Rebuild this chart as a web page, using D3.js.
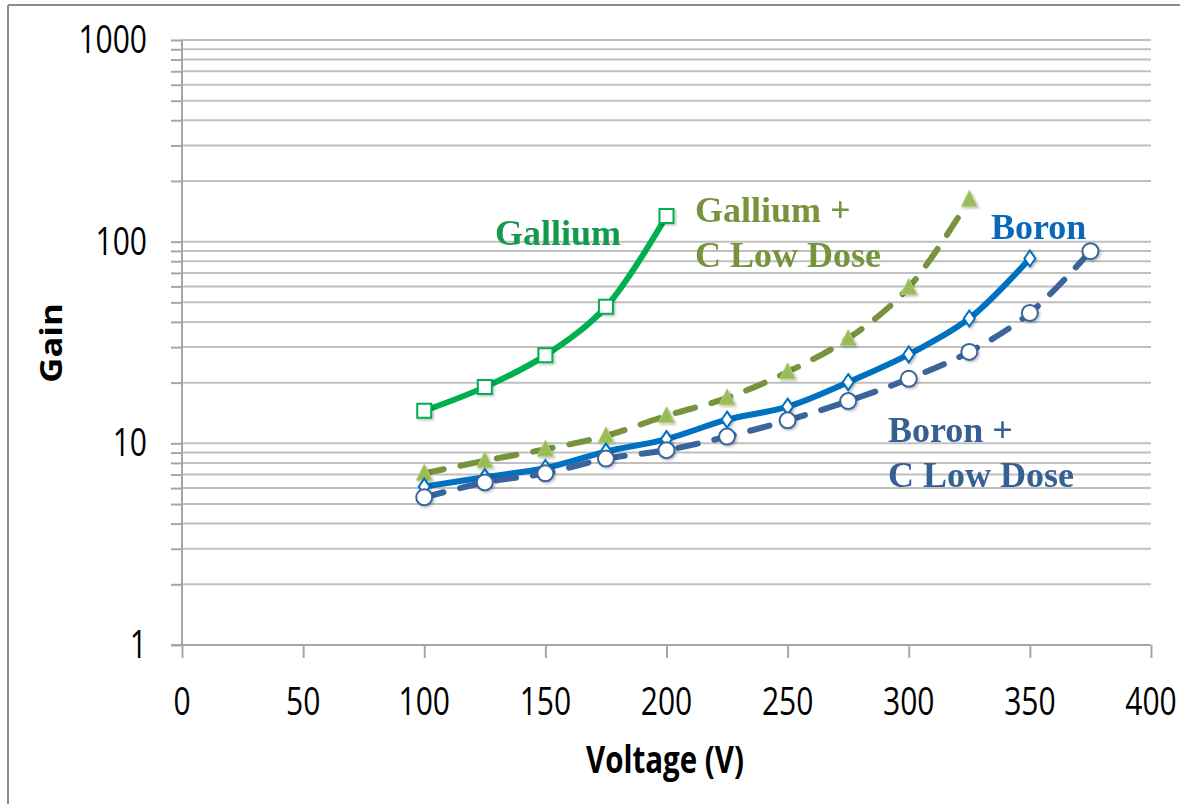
<!DOCTYPE html>
<html>
<head>
<meta charset="utf-8">
<script src="https://cdn.jsdelivr.net/npm/d3@7"></script>
<style>
  html, body { margin: 0; padding: 0; background: #fff; }
  svg { display: block; }
</style>
</head>
<body>
<svg id="chart" width="1180" height="804"></svg>
<script>
// Gain vs bias voltage for four doping variants
const voltages = [100, 125, 150, 175, 200, 225, 250, 275, 300, 325, 350, 375];

const galliumGain   = [14.5, 19.0, 27.3, 47.5, 134];
const galliumCGain  = [7.1, 8.2, 9.35, 10.9, 13.7, 16.8, 22.6, 33.1, 59.3, 162];
const boronGain     = [6.1, 6.8, 7.55, 9.1, 10.5, 13.1, 15.2, 20.1, 27.6, 41.6, 82.5];
const boronCGain    = [5.4, 6.4, 7.1, 8.4, 9.25, 10.8, 13.0, 16.2, 20.9, 28.4, 44.3, 89.7];

const xTicks = [0, 50, 100, 150, 200, 250, 300, 350, 400];
const yMajorTicks = [1, 10, 100, 1000];

const seriesNames = ["Gallium", "Gallium + C Low Dose", "Boron", "Boron + C Low Dose"];

const svg = d3.select("#chart");

const x = d3.scaleLinear().domain([0, 400]).range([182, 1151]);
const y = d3.scaleLog().domain([1, 1000]).range([645, 40]);

// outer frame (top and left edges)
svg.append("line").attr("x1", 8).attr("x2", 1180).attr("y1", 5).attr("y2", 5)
  .attr("stroke", "#8c8c8c").attr("stroke-width", 2);
svg.append("line").attr("x1", 8).attr("x2", 8).attr("y1", 5).attr("y2", 804)
  .attr("stroke", "#8c8c8c").attr("stroke-width", 2);

// every log tick 1..9 per decade
const allYTicks = [];
for (let d = 1; d < 1000; d *= 10) {
  for (let k = 1; k < 10; k++) allYTicks.push(d * k);
}
allYTicks.push(1000);

// horizontal gridlines
svg.append("g").selectAll("line")
  .data(allYTicks.filter(v => v > 1))
  .join("line")
  .attr("x1", x(0)).attr("x2", x(400))
  .attr("y1", d => y(d)).attr("y2", d => y(d))
  .attr("stroke", "#c0c0c0").attr("stroke-width", 2);

// y axis with tick marks on every gridline
const yAxis = d3.axisLeft(y).tickValues(allYTicks).tickSize(11).tickFormat("");
const gy = svg.append("g").attr("transform", `translate(${x(0)},0)`).call(yAxis);
gy.select(".domain").remove();
gy.selectAll(".tick line").attr("stroke", "#a6a6a6").attr("stroke-width", 2);
svg.append("line").attr("x1", x(0)).attr("x2", x(0)).attr("y1", y(1000)).attr("y2", y(1))
  .attr("stroke", "#a6a6a6").attr("stroke-width", 2);

// y tick labels
svg.append("g").selectAll("text")
  .data(yMajorTicks)
  .join("text")
  .attr("transform", d => `translate(147,${y(d) + 13}) scale(1,1.28)`)
  .attr("text-anchor", "end")
  .attr("font-family", "Open Sans")
  .attr("font-size", 30)
  .attr("fill", "#000")
  .text(d => d);

// x axis
const xAxis = d3.axisBottom(x).tickValues(xTicks).tickSize(13).tickFormat("");
const gx = svg.append("g").attr("transform", `translate(0,${y(1)})`).call(xAxis);
gx.select(".domain").remove();
gx.selectAll(".tick line").attr("stroke", "#a6a6a6").attr("stroke-width", 2);
svg.append("line").attr("x1", x(0) - 11).attr("x2", x(400)).attr("y1", y(1)).attr("y2", y(1))
  .attr("stroke", "#a6a6a6").attr("stroke-width", 2);

svg.append("g").selectAll("text")
  .data(xTicks)
  .join("text")
  .attr("transform", d => `translate(${x(d)},715) scale(1,1.28)`)
  .attr("text-anchor", "middle")
  .attr("font-family", "Open Sans")
  .attr("font-size", 30)
  .attr("fill", "#000")
  .text(d => d);

// axis titles
svg.append("text")
  .attr("transform", "translate(665,773) scale(1,1.3)")
  .attr("text-anchor", "middle")
  .attr("font-family", "Open Sans")
  .attr("font-weight", "bold")
  .attr("font-size", 29.5)
  .attr("fill", "#000")
  .text("Voltage (V)");

svg.append("text")
  .attr("transform", "translate(62,343) rotate(-90) scale(1.12,1)")
  .attr("text-anchor", "middle")
  .attr("font-family", "Open Sans")
  .attr("font-weight", "bold")
  .attr("font-size", 31)
  .attr("fill", "#000")
  .text("Gain");

// soft marker shadow
const defs = svg.append("defs");
const f = defs.append("filter").attr("id", "shadow").attr("x", "-50%").attr("y", "-50%")
  .attr("width", "200%").attr("height", "200%");
f.append("feDropShadow").attr("dx", 1.5).attr("dy", 1.5).attr("stdDeviation", 1.2)
  .attr("flood-color", "#000").attr("flood-opacity", 0.25);

const line = d3.line()
  .x(d => x(d[0]))
  .y(d => y(d[1]))
  .curve(d3.curveCatmullRom.alpha(0.5));

function pairs(vals) { return vals.map((v, i) => [voltages[i], v]); }

const series = [
  { name: seriesNames[0], data: pairs(galliumGain), color: "#00b050", dash: null, marker: "square" },
  { name: seriesNames[1], data: pairs(galliumCGain), color: "#77933c", dash: "20,17", marker: "triangle" },
  { name: seriesNames[2], data: pairs(boronGain), color: "#0070c0", dash: null, marker: "diamond" },
  { name: seriesNames[3], data: pairs(boronCGain), color: "#3a649c", dash: "20,17", marker: "circle" }
];

const markerPaths = {
  square: "M-7,-7H7V7H-7Z",
  triangle: "M0,-9L8,7H-8Z",
  diamond: "M0,-8L5.5,0L0,8L-5.5,0Z"
};

series.forEach(s => {
  const g = svg.append("g").attr("class", "series");
  g.append("path")
    .datum(s.data)
    .attr("d", line)
    .attr("fill", "none")
    .attr("stroke", s.color)
    .attr("stroke-width", 6)
    .attr("stroke-linecap", "round")
    .attr("stroke-dasharray", s.dash);

  const m = g.append("g").attr("filter", "url(#shadow)").selectAll("g")
    .data(s.data)
    .join("g")
    .attr("transform", d => `translate(${x(d[0])},${y(d[1])})`);

  if (s.marker === "circle") {
    m.append("circle").attr("r", 8)
      .attr("fill", "#fff").attr("stroke", s.color).attr("stroke-width", 2);
  } else if (s.marker === "triangle") {
    m.append("path").attr("d", markerPaths.triangle)
      .attr("fill", "#9bbb59").attr("stroke", "#b3cf7a").attr("stroke-width", 1);
  } else {
    m.append("path").attr("d", markerPaths[s.marker])
      .attr("fill", "#fff").attr("stroke", s.color).attr("stroke-width", 2);
  }
});

// series annotations
const labels = [
  { lines: ["Gallium"], x: 495, y: 245, color: "#139a4a" },
  { lines: ["Gallium +", "C Low Dose"], x: 695, y: 222, color: "#77933c" },
  { lines: ["Boron"], x: 991, y: 239, color: "#0a68b8" },
  { lines: ["Boron +", "C Low Dose"], x: 888, y: 442, color: "#376092" }
];

labels.forEach(l => {
  const t = svg.append("text")
    .attr("font-family", "Liberation Serif")
    .attr("font-weight", "bold")
    .attr("font-size", 36)
    .attr("fill", l.color);
  l.lines.forEach((txt, i) => {
    t.append("tspan").attr("x", l.x).attr("y", l.y + i * 44.5).text(txt);
  });
});
</script>
</body>
</html>
